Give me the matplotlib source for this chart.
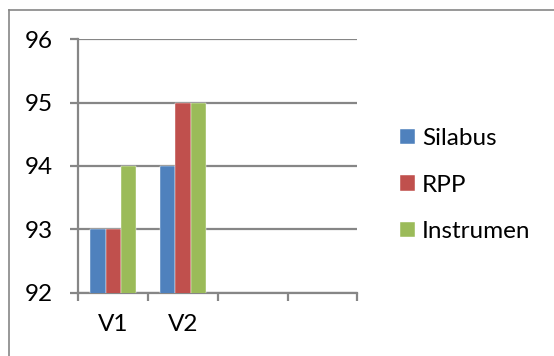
import matplotlib
matplotlib.use("Agg")
import matplotlib.pyplot as plt
import numpy as np
from matplotlib.lines import Line2D

plt.rcParams['font.family'] = ['Lato', 'DejaVu Sans']

categories = ["V1", "V2"]
n_slots = 4
series_names = ["Silabus", "RPP", "Instrumen"]
silabus = [93, 94]
rpp = [93, 95]
instrumen = [94, 95]
y_ticks = [92, 93, 94, 95, 96]
colors = ["#4F81BD", "#C0504D", "#9BBB59"]

W, H = 554, 356
fig = plt.figure(figsize=(W / 100, H / 100), dpi=100)
ax = fig.add_axes([78.3 / W, 1 - 292.7 / H, (357.3 - 78.3) / W, (292.7 - 39.3) / H])

gray = "#868686"
fs = 17.5
bw = 0.22
x = np.arange(len(categories)) + 0.5
for i, (name, vals) in enumerate(zip(series_names, [silabus, rpp, instrumen])):
    ax.bar(x + (i - 1) * bw, vals, width=bw, color=colors[i], label=name,
           edgecolor="white", linewidth=0.3, zorder=3)

ax.set_ylim(y_ticks[0], y_ticks[-1])
ax.set_xlim(0, n_slots)
ax.set_yticks(y_ticks)
ax.set_yticklabels([str(t) for t in y_ticks])
ax.yaxis.grid(True, color=gray, linewidth=1.6, zorder=0)
ax.set_axisbelow(True)

ax.set_xticks(np.arange(n_slots + 1))
ax.set_xticklabels([])
ax.set_xticks(x, minor=True)
ax.set_xticklabels(categories, minor=True)

for s in ["top", "right"]:
    ax.spines[s].set_visible(False)
for s in ["left", "bottom"]:
    ax.spines[s].set_color(gray)
    ax.spines[s].set_linewidth(1.6)

ax.tick_params(axis="y", which="major", length=5.5, width=1.6, color=gray,
               labelsize=fs, pad=13, labelcolor="black")
ax.tick_params(axis="x", which="major", length=5.5, width=1.6, color=gray, direction="out")
ax.tick_params(axis="x", which="minor", length=0, labelsize=fs, pad=15, labelcolor="black")

leg = fig.legend(loc="center left", bbox_to_anchor=(400 / W, 1 - 185 / H),
                 frameon=False, fontsize=fs, handlelength=0.6, handleheight=0.6,
                 handletextpad=0.3, labelspacing=1.05, borderpad=0, borderaxespad=0)

# outer chart frame
fig.add_artist(Line2D([8.5 / W, 1.0], [1 - 9.7 / H, 1 - 9.7 / H], color=gray, linewidth=1.2,
                      transform=fig.transFigure))
fig.add_artist(Line2D([8.5 / W, 8.5 / W], [0, 1 - 9.7 / H], color=gray, linewidth=1.2,
                      transform=fig.transFigure))

fig.savefig("out.png", dpi=100)
